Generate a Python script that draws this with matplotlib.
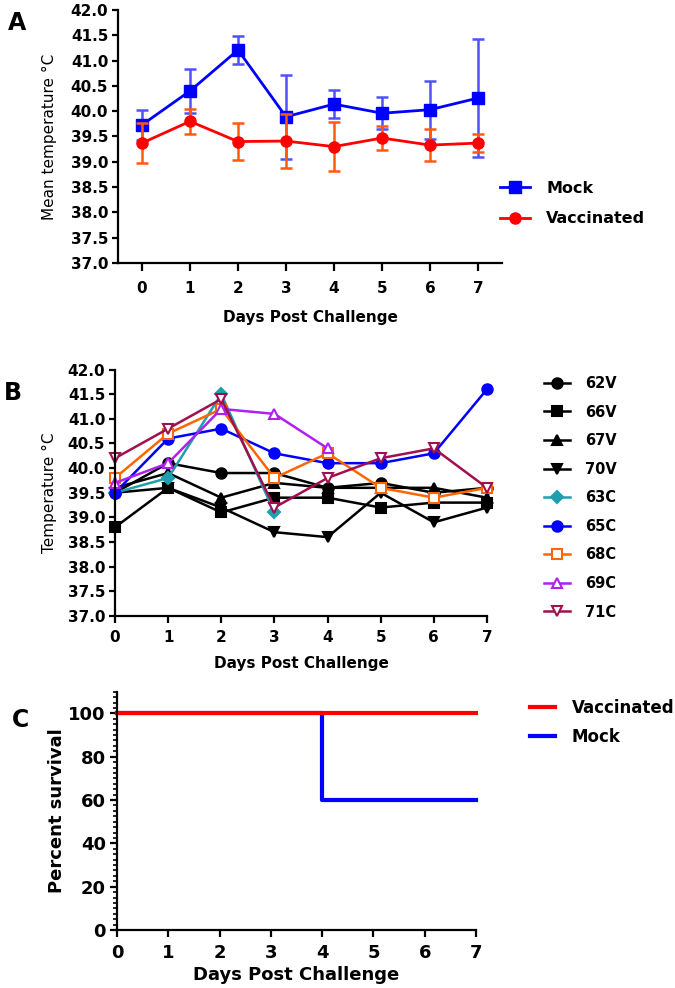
import matplotlib
matplotlib.use("Agg")
import matplotlib.pyplot as plt
from matplotlib.ticker import MultipleLocator, FormatStrFormatter

plt.rcParams['font.family'] = ['DejaVu Sans']
plt.rcParams['font.weight'] = 'bold'
plt.rcParams['axes.labelweight'] = 'bold'

# ---- data ----
days = [0, 1, 2, 3, 4, 5, 6, 7]

# panel A: group means +/- SD
mock_mean = [39.73, 40.40, 41.21, 39.89, 40.14, 39.96, 40.03, 40.26]
mock_err = [0.30, 0.43, 0.27, 0.83, 0.27, 0.32, 0.57, 1.17]
vacc_mean = [39.37, 39.80, 39.40, 39.41, 39.30, 39.47, 39.33, 39.37]
vacc_err = [0.40, 0.25, 0.36, 0.53, 0.49, 0.23, 0.31, 0.18]

# panel B: individual animals
t_62V = [39.5, 40.1, 39.9, 39.9, 39.6, 39.7, 39.5, 39.6]
t_66V = [38.8, 39.6, 39.1, 39.4, 39.4, 39.2, 39.3, 39.3]
t_67V = [39.6, 39.9, 39.4, 39.7, 39.6, 39.6, 39.6, 39.4]
t_70V = [39.5, 39.6, 39.2, 38.7, 38.6, 39.5, 38.9, 39.2]
t_63C = [39.5, 39.8, 41.5, 39.1]
t_65C = [39.5, 40.6, 40.8, 40.3, 40.1, 40.1, 40.3, 41.6]
t_68C = [39.8, 40.7, 41.2, 39.8, 40.3, 39.6, 39.4, 39.6]
t_69C = [39.7, 40.1, 41.2, 41.1, 40.4]
t_71C = [40.2, 40.8, 41.4, 39.2, 39.8, 40.2, 40.4, 39.6]

# panel C: survival
surv_days = [0, 4, 7]
surv_vacc = [100, 100, 100]
surv_mock = [100, 60, 60]

W, H = 675, 988


def box(x0, y0, x1, y1):
    # pixel box (top-left origin) -> figure fraction
    return [x0 / W, 1 - y1 / H, (x1 - x0) / W, (y1 - y0) / H]


def style_axes(ax, lw=1.6):
    ax.spines['top'].set_visible(False)
    ax.spines['right'].set_visible(False)
    ax.spines['left'].set_linewidth(lw)
    ax.spines['bottom'].set_linewidth(lw)


fig = plt.figure(figsize=(6.75, 9.88), dpi=100)

# ---------------- A ----------------
ax = fig.add_axes(box(118, 10, 502, 263))
style_axes(ax)
ax.errorbar(days, mock_mean, yerr=mock_err, fmt='none', ecolor='#5050ff',
            elinewidth=1.8, capsize=4.5, capthick=1.8)
ax.plot(days, mock_mean, color='#0000ff', marker='s', markersize=8, lw=2, label='Mock')
ax.errorbar(days, vacc_mean, yerr=vacc_err, fmt='none', ecolor='#ff5a10',
            elinewidth=1.8, capsize=4.5, capthick=1.8)
ax.plot(days, vacc_mean, color='#ff0000', marker='o', markersize=8, lw=2, label='Vaccinated')
ax.set_xlim(-0.5, 7.5)
ax.set_ylim(37, 42)
ax.set_xticks(days)
ax.yaxis.set_major_locator(MultipleLocator(0.5))
ax.yaxis.set_major_formatter(FormatStrFormatter('%.1f'))
ax.tick_params(axis='x', length=6, width=1.6, pad=7, labelsize=11)
ax.tick_params(axis='y', length=4, width=1.6, pad=3, labelsize=11)
ax.set_xlabel('Days Post Challenge', fontsize=11, labelpad=10)
ax.set_ylabel('Mean temperature \u00b0C', fontsize=11, fontweight='normal', labelpad=10)
ax.legend(loc='upper left', bbox_to_anchor=(500 / W, 1 - 181 / H), bbox_transform=fig.transFigure,
          frameon=False, fontsize=11.5, handlelength=1.9, handletextpad=1.0, labelspacing=0.95,
          borderaxespad=0, borderpad=0)
fig.text(8 / W, 1 - 23 / H, 'A', fontsize=17, fontweight='bold', va='center')

# ---------------- B ----------------
ax = fig.add_axes(box(115, 369.5, 487, 616))
style_axes(ax)
series = [
    ('62V', t_62V, 'black', 'o', 'black'),
    ('66V', t_66V, 'black', 's', 'black'),
    ('67V', t_67V, 'black', '^', 'black'),
    ('70V', t_70V, 'black', 'v', 'black'),
    ('63C', t_63C, '#1e9fb0', 'D', '#1e9fb0'),
    ('65C', t_65C, '#0000ff', 'o', '#0000ff'),
    ('68C', t_68C, '#ff6600', 's', 'white'),
    ('69C', t_69C, '#b020f0', '^', 'white'),
    ('71C', t_71C, '#a0104f', 'v', 'white'),
]
for name, vals, col, mk, face in series:
    ms = 6 if mk == 'D' else 7.5
    ax.plot(days[:len(vals)], vals, color=col, marker=mk, markersize=ms, lw=1.8,
            markerfacecolor=face, markeredgecolor=col, markeredgewidth=1.5,
            label=name, clip_on=False)
ax.set_xlim(0, 7)
ax.set_ylim(37, 42)
ax.set_xticks(days)
ax.yaxis.set_major_locator(MultipleLocator(0.5))
ax.yaxis.set_major_formatter(FormatStrFormatter('%.1f'))
ax.tick_params(axis='x', length=5, width=1.6, pad=5, labelsize=11)
ax.tick_params(axis='y', length=4, width=1.6, pad=3, labelsize=11)
ax.set_xlabel('Days Post Challenge', fontsize=11, labelpad=8)
ax.set_ylabel('Temperature \u00b0C', fontsize=11, fontweight='normal', labelpad=8)
ax.legend(loc='upper left', bbox_to_anchor=(544 / W, 1 - 376 / H), bbox_transform=fig.transFigure,
          frameon=False, fontsize=10.5, handlelength=1.8, handletextpad=1.0, labelspacing=0.93,
          borderaxespad=0, borderpad=0)
fig.text(4 / W, 1 - 393 / H, 'B', fontsize=17, fontweight='bold', va='center')

# ---------------- C ----------------
ax = fig.add_axes(box(117, 691.7, 476, 930))
style_axes(ax)
ax.plot(surv_days, surv_mock, color='#0000ff', lw=3, drawstyle='steps-post', label='Mock', clip_on=False)
ax.plot(surv_days, surv_vacc, color='#ff0000', lw=3, drawstyle='steps-post', label='Vaccinated', clip_on=False)
ax.set_xlim(0, 7)
ax.set_ylim(0, 110)
ax.set_xticks(days)
ax.set_yticks([0, 20, 40, 60, 80, 100])
ax.yaxis.set_minor_locator(MultipleLocator(2.5))
ax.tick_params(axis='x', length=5, width=1.6, pad=5, labelsize=13)
ax.tick_params(axis='y', which='major', length=5, width=1.6, pad=3, labelsize=13)
ax.tick_params(axis='y', which='minor', length=3, width=1.2)
ax.set_xlabel('Days Post Challenge', fontsize=13, labelpad=3)
ax.set_ylabel('Percent survival', fontsize=13, labelpad=2)
h, l = ax.get_legend_handles_labels()
ax.legend(h[::-1], l[::-1], loc='upper left', bbox_to_anchor=(530 / W, 1 - 699 / H),
          bbox_transform=fig.transFigure, frameon=False, fontsize=12,
          handlelength=1.5, handletextpad=1.0, labelspacing=0.65, borderaxespad=0, borderpad=0)
fig.text(12 / W, 1 - 720 / H, 'C', fontsize=17, fontweight='bold', va='center')

fig.savefig('out.png', dpi=100)
